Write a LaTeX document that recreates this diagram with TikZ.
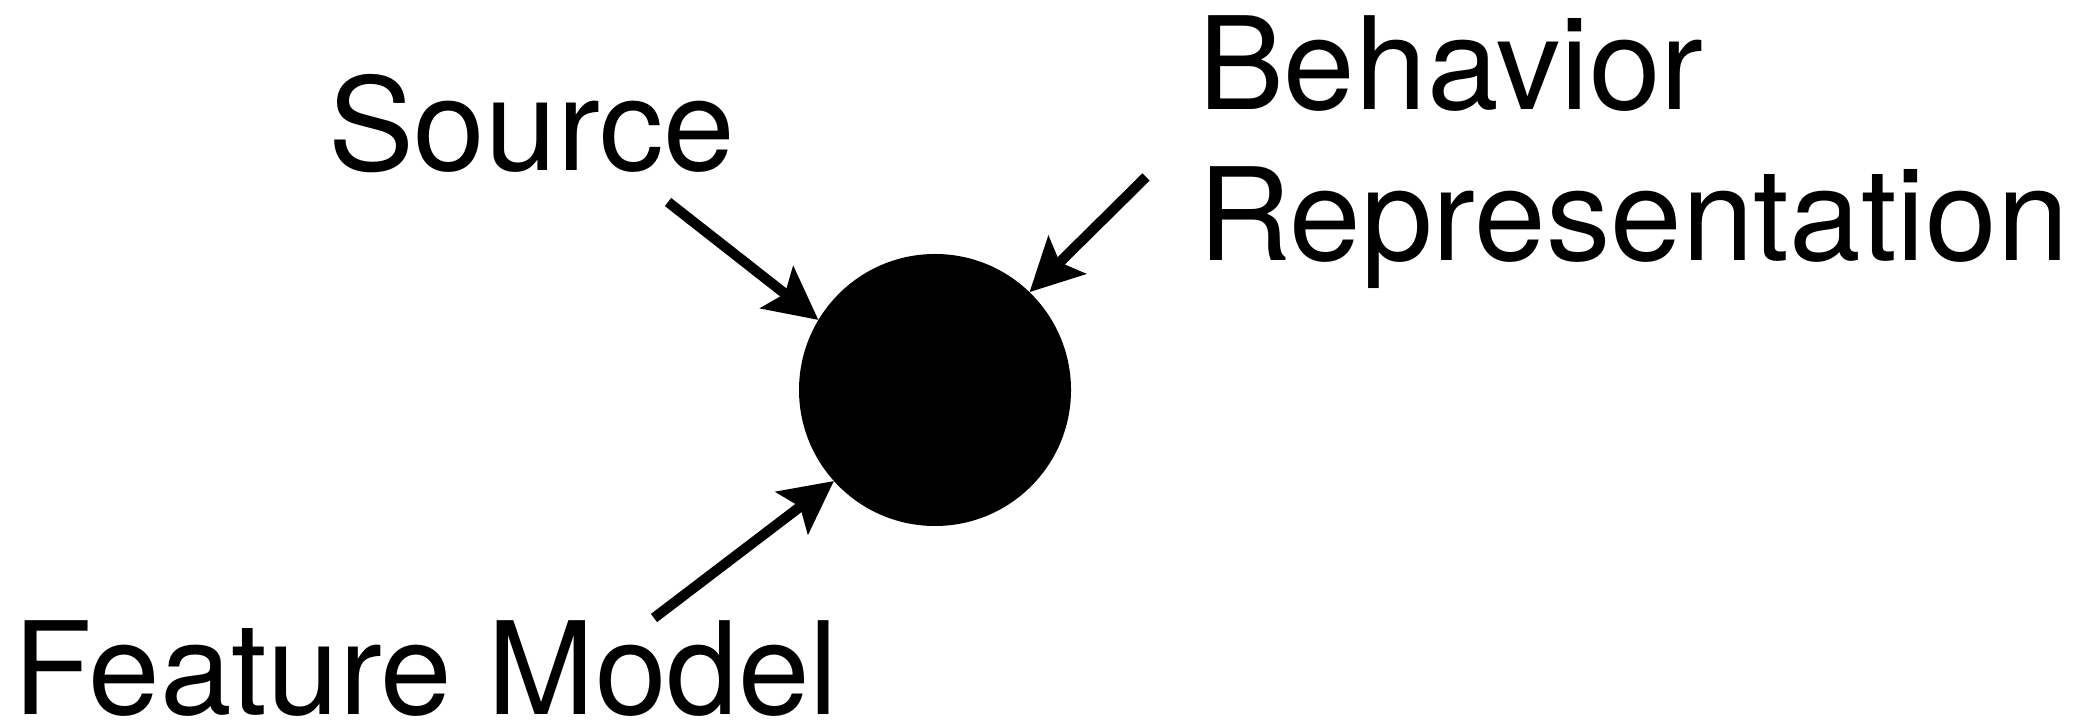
\documentclass[tikz,border=0pt]{standalone}
\usepackage{fontspec}
\setmainfont{TeX Gyre Heros}
\usetikzlibrary{arrows.meta}
\begin{document}
\begin{tikzpicture}[x=0.4pt,y=-0.4pt,
  lbl/.style={inner sep=0pt,outer sep=0pt,anchor=base west,font=\fontsize{51.5}{60.4}\selectfont,align=left},
  arr/.style={line width=4.1pt,-{Stealth[length=21pt,width=21pt,inset=4pt]}},
  dot/.style={circle,fill=black,inner sep=0pt,outer sep=0pt,minimum size=108.8pt}]
\useasboundingbox (0,0) rectangle (2096,724);
\node[dot] (c) at (935,390) {};
\node[lbl] (src) at (328,171) {Source};
\node[lbl] (beh) at (1198,261) {Behavior\\Representation};
\node[lbl,text depth=0pt] (fm) at (13,714) {Feature Model};
\coordinate (s1) at (668,202);
\coordinate (b1) at (1146,177);
\coordinate (f1) at (654,618);
\draw[arr] (s1) -- (c.149);
\draw[arr] (b1) -- (c.46);
\draw[arr] (f1) -- (c.222);
\end{tikzpicture}
\end{document}
